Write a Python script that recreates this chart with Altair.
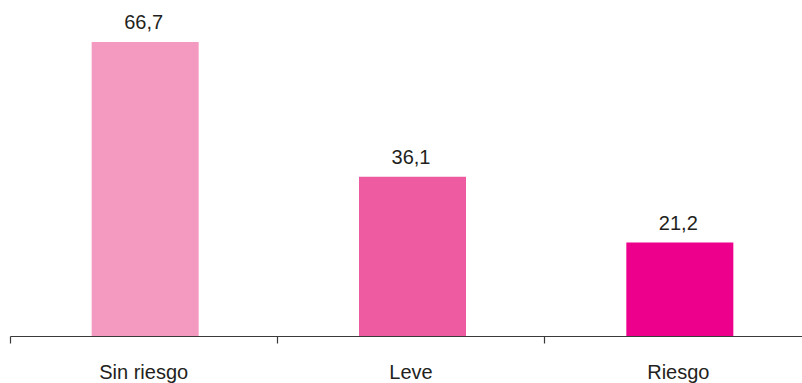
import altair as alt
import pandas as pd

categories = ["Sin riesgo", "Leve", "Riesgo"]
values = [66.7, 36.1, 21.2]
labels = ["66,7", "36,1", "21,2"]
colors = ["#F49AC1", "#EF5BA1", "#EC008C"]

df = pd.DataFrame({"cat": categories, "val": values, "lab": labels, "col": colors})

x = alt.X("cat:N", sort=categories,
          scale=alt.Scale(range=[0, 802], paddingInner=0, paddingOuter=0),
          axis=alt.Axis(title=None, labels=False, bandPosition=0, domainColor="#3a3a3a",
                        tickColor="#3a3a3a", tickSize=7, domainWidth=1.2, tickWidth=1.2,
                        grid=False))
y = alt.Y("val:Q", scale=alt.Scale(domain=[0, 76.2], nice=False), axis=None)

bars = alt.Chart(df).mark_bar(size=107, xOffset=1.5).encode(
    x=x, y=y, color=alt.Color("col:N", scale=None))

vals = alt.Chart(df).mark_text(baseline="bottom", dy=-9, font="Liberation Sans",
                               fontSize=20, color="#231F20").encode(
    x=alt.X("cat:N", sort=categories), y="val:Q", text="lab:N")

cats = alt.Chart(df).mark_text(baseline="alphabetic", font="Liberation Sans",
                               fontSize=20, color="#231F20").encode(
    x=alt.X("cat:N", sort=categories), y=alt.value(379), text="cat:N")

chart = (bars + vals + cats).properties(
    width=792, height=336,
    autosize=alt.AutoSizeParams(type="none"),
    padding={"left": 10, "right": 0, "top": 0, "bottom": 47},
).configure_view(stroke=None)

chart.save("out.html", embed_options={"renderer": "svg", "actions": False})
